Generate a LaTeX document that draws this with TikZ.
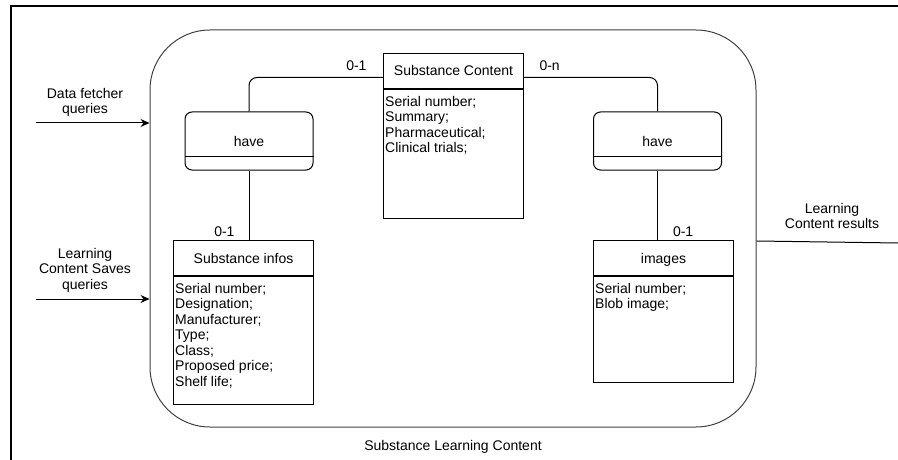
\documentclass[tikz,border=0pt]{standalone}
\usepackage{fontspec}
\setmainfont{Liberation Sans}
\usetikzlibrary{positioning,arrows.meta}

\begin{document}
\begin{tikzpicture}[x=1pt, y=-1pt,
    font=\fontsize{14}{15.5}\selectfont,
    entity/.style={rectangle, draw, line width=1pt, minimum width=140pt, minimum height=35pt, inner sep=0pt, text height=10pt, text depth=0pt},
    attrs/.style={rectangle, draw, line width=1pt, minimum width=140pt, inner sep=0pt},
    attrlist/.style={align=left, inner sep=0pt, anchor=north west},
    relation/.style={rectangle, draw, rounded corners=7pt, line width=1pt, minimum width=128pt, minimum height=58pt, inner sep=0pt},
    link/.style={line width=1pt, rounded corners=8pt},
    card/.style={inner sep=0pt},
    flow/.style={align=center, inner sep=0pt},
    arrow/.style={-{Stealth[length=9pt,width=8pt]}, line width=1pt}]

\useasboundingbox (0,0) rectangle (898,460);

% page frame (only top and left edges show)
\draw[line width=1.2pt] (11,460) -- (11,6) -- (898,6);

% system boundary
\node[rectangle, draw=black!75, line width=1pt, rounded corners=60pt, minimum width=606pt, minimum height=397pt] (slc) at (453,228.5) {};
\node[card, below=12.8pt of slc] (slclabel) {Substance Learning Content};

% entities
\node[entity, anchor=north west] (sc) at (383,53) {Substance Content};
\node[attrs, minimum height=129pt, below=0pt of sc] (scattr) {};
\node[attrlist] (scfields) at ([shift={(2pt,-7pt)}]scattr.north west) {Serial number;\\Summary;\\Pharmaceutical;\\Clinical trials;};

\node[entity, anchor=north west] (si) at (173,240) {Substance infos};
\node[attrs, minimum height=128pt, below=0pt of si] (siattr) {};
\node[attrlist] (sifields) at ([shift={(2pt,-7pt)}]siattr.north west) {Serial number;\\Designation;\\Manufacturer;\\Type;\\Class;\\Proposed price;\\Shelf life;};

\node[entity, anchor=north west] (img) at (593,240) {images};
\node[attrs, minimum height=106pt, below=0pt of img] (imgattr) {};
\node[attrlist] (imgfields) at ([shift={(2pt,-7pt)}]imgattr.north west) {Serial number;\\Blob image;};

% relations
\node[relation] (haveleft) at (249,141) {have};
\node[relation] (haveright) at (657.5,141) {have};
\draw[line width=1pt] ([yshift=14pt]haveleft.south west) -- ([yshift=14pt]haveleft.south east);
\draw[line width=1pt] ([yshift=14pt]haveright.south west) -- ([yshift=14pt]haveright.south east);

% links with cardinalities
\draw[link] ([yshift=-6.5pt]sc.west) node[card, anchor=south east, xshift=-16pt, yshift=6pt] (cardsc1) {0-1} -| (haveleft.north);
\draw[link] ([yshift=-6.5pt]sc.east) node[card, anchor=south west, xshift=15pt, yshift=6pt] (cardsc2) {0-n} -| (haveright.north);
\draw[link] (haveleft.south) -- (haveleft.south |- si.north) node[card, anchor=south east, xshift=-14pt, yshift=3pt] (cardsi) {0-1};
\draw[link] (haveright.south) -- (haveright.south |- img.north) node[card, anchor=south west, xshift=15pt, yshift=3pt] (cardimg) {0-1};

% incoming and outgoing flows
\coordinate (fetch) at (36,123);
\coordinate (saves) at (36,299);
\coordinate (results) at (898,243);
\node[flow] (fetchlbl) at (85,102.4) {Data fetcher\\queries};
\node[flow] (saveslbl) at (85,270) {Learning\\Content Saves\\queries};
\node[flow] (resultslbl) at (832,216) {Learning\\Content results};
\draw[arrow] (fetch) -- (fetch -| slc.west);
\draw[arrow] (saves) -- (saves -| slc.west);
\draw[line width=1pt] ([yshift=2pt]slc.east |- results) -- (results);
\end{tikzpicture}
\end{document}
